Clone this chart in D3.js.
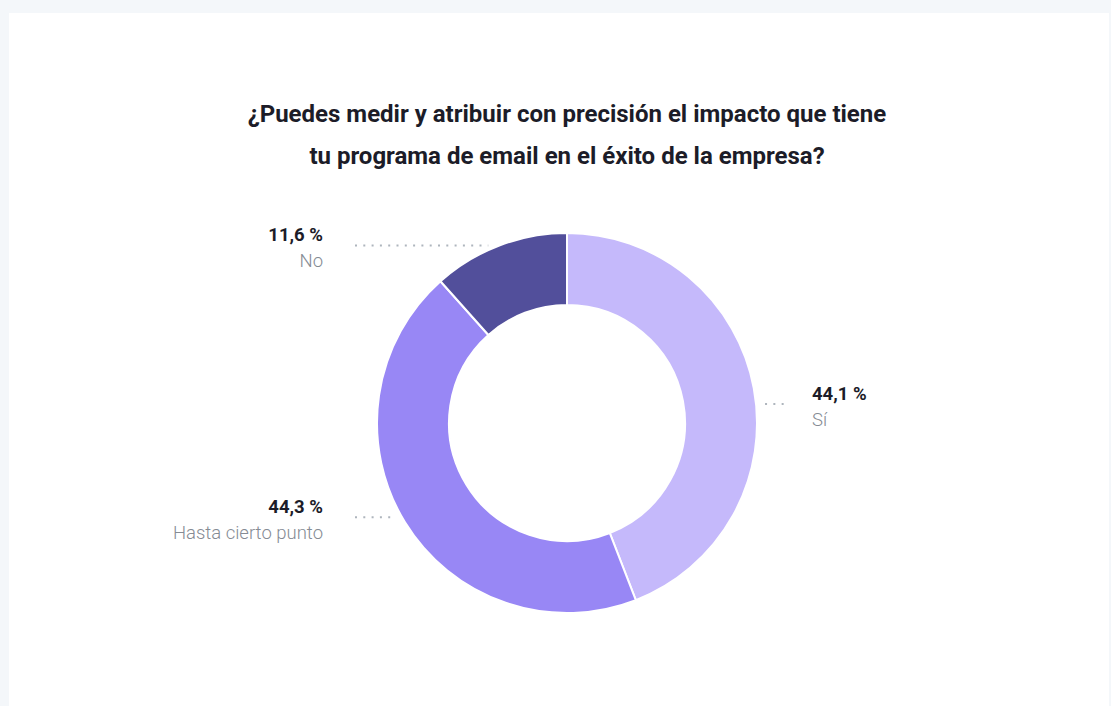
<!DOCTYPE html>
<html>
<meta charset="utf-8">
<head>
<script src="https://d3js.org/d3.v7.min.js"></script>
<title>email impact donut</title>
<style>
html, body {
	margin: 0;
	padding: 0;
	background: #f4f7fa;
	font-family: 'Roboto', 'Arial', sans-serif;
}
svg {
	display: block;
}
</style>
</head>
<body>
<svg></svg>
<script>
var width = 1111;
var height = 706;

// data
var categories = ["Sí", "Hasta cierto punto", "No"];
var values = [44.1, 44.3, 11.6];
var colors = ["#c5b9fb", "#9887f5", "#524f9b"];
var titleLines = [
	"¿Puedes medir y atribuir con precisión el impacto que tiene",
	"tu programa de email en el éxito de la empresa?"
];

var cx = 567, cy = 423;
var outer = 190, inner = 118;

var svg = d3.select("svg")
	.attr("width", width)
	.attr("height", height);

// white card
svg.append("rect")
	.attr("x", 9).attr("y", 13)
	.attr("width", 1100).attr("height", height)
	.attr("fill", "white");

// title
svg.append("g").selectAll("text")
	.data(titleLines)
	.enter().append("text")
	.attr("x", cx)
	.attr("y", function(d, i) { return 122 + i * 42; })
	.attr("text-anchor", "middle")
	.style("font-size", "24px")
	.style("font-weight", 700)
	.style("fill", "#1c1c28")
	.text(function(d) { return d; });

var data = categories.map(function(c, i) {
	return {name: c, value: values[i], color: colors[i]};
});

var pie = d3.pie()
	.sort(null)
	.value(function(d) { return d.value; });
var arcs = pie(data);

var arc = d3.arc().innerRadius(inner).outerRadius(outer);

var g = svg.append("g").attr("transform", "translate(" + cx + "," + cy + ")");

g.selectAll("path")
	.data(arcs)
	.enter().append("path")
	.attr("d", arc)
	.attr("fill", function(d) { return d.data.color; })
	.attr("stroke", "white")
	.attr("stroke-width", 2);

// labels: leader sits at the slice's middle angle, nudged a little
var nudge = {"Sí": 16, "Hasta cierto punto": -5, "No": 0};
var fmt = function(v) { return d3.format(".1f")(v).replace(".", ",") + " %"; };

var labels = svg.append("g");
arcs.forEach(function(a) {
	var mid = (a.startAngle + a.endAngle) / 2;
	var y = cy - outer * Math.cos(mid) + nudge[a.data.name];
	var dy = y - cy;
	var dx = Math.sqrt(outer * outer - dy * dy);
	var right = Math.sin(mid) > 0;
	var x1, x2, tx, anchor;
	if (right) {
		x1 = cx + dx + 9; x2 = 784; tx = 812; anchor = "start";
	} else {
		x1 = 355; x2 = cx - dx - 11; tx = 323; anchor = "end";
	}
	labels.append("line")
		.attr("x1", x1).attr("x2", x2)
		.attr("y1", y).attr("y2", y)
		.attr("stroke", "#aeb5bd")
		.attr("stroke-width", 2)
		.attr("stroke-dasharray", "2,6.3");
	labels.append("text")
		.attr("x", tx).attr("y", y - 4)
		.attr("text-anchor", anchor)
		.style("font-size", "18.5px")
		.style("font-weight", 700)
		.style("fill", "#1c1c28")
		.text(fmt(a.data.value));
	labels.append("text")
		.attr("x", tx).attr("y", y + 22)
		.attr("text-anchor", anchor)
		.style("font-size", "18.5px")
		.style("font-weight", 300)
		.style("fill", "#858b94")
		.text(a.data.name);
});
</script>
</body>
</html>
